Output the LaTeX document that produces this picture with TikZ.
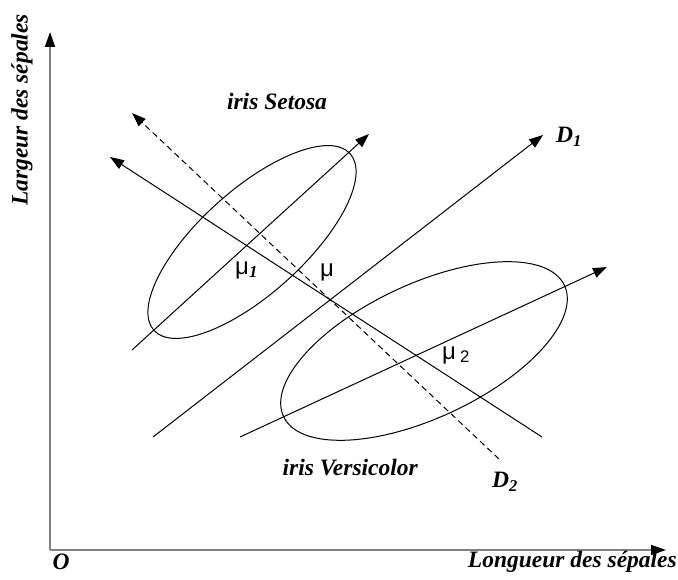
\documentclass[tikz,border=0pt]{standalone}
\usepackage{fontspec}
\setmainfont{Liberation Serif}
\newfontfamily\mufont{Liberation Sans}
\usetikzlibrary{arrows.meta}
\begin{document}
\begin{tikzpicture}[x=1pt,y=1pt,
  ln/.style={line width=1pt, draw=black},
  tipped/.style={ln, -{Triangle[length=14pt,width=10pt]}},
  axisln/.style={line width=1.6pt, draw=gray, -{Triangle[length=15pt,width=10pt,color=black]}},
  lab/.style={font=\fontsize{23.5}{26}\selectfont\bfseries\itshape, inner sep=0pt},
  mulab/.style={font=\fontsize{24}{26}\selectfont\mufont, inner sep=0pt}]
\useasboundingbox (0,0) rectangle (678,579);
% axes
\coordinate (O) at (50,29);
\coordinate (Ytip) at (50,547);
\coordinate (Xtip) at (666,29);
\draw[axisln] (O) -- (Ytip);
\draw[axisln] (O) -- (Xtip);
\node[lab, rotate=90] (ylab) at (22,469) {Largeur des sépales};
\node[lab, anchor=east] (xlab) at (677,17) {Longueur des sépales};
\node[lab] (olab) at (61,17) {O};
% ellipses
\draw[ln, rotate around={42:(252,337)}] (252,337) ellipse [x radius=132, y radius=52];
\draw[ln, rotate around={25:(424,228)}] (424,228) ellipse [x radius=155, y radius=67];
% lines
\coordinate (La) at (542,142); \coordinate (Lb) at (110,422);
\coordinate (Da) at (499,120); \coordinate (Db) at (132,466);
\coordinate (D1a) at (153,142); \coordinate (D1b) at (543,444);
\coordinate (A1a) at (132,229); \coordinate (A1b) at (369,445);
\coordinate (A2a) at (240,142); \coordinate (A2b) at (607,312);
\draw[tipped] (La) -- (Lb);
\draw[tipped, dash pattern=on 6pt off 4pt] (Da) -- (Db);
\draw[tipped] (D1a) -- (D1b);
\draw[tipped] (A1a) -- (A1b);
\draw[tipped] (A2a) -- (A2b);
% labels
\node[lab] (setosa) at (277,478) {iris Setosa};
\node[lab, anchor=east] (versi) at (418,111) {iris Versicolor};
\node[lab, anchor=west] (d1) at (556,442) {D\textsubscript{1}};
\node[lab, anchor=west] (d2) at (492,97) {D\textsubscript{2}};
\node[mulab] (mu) at (327,307) {μ};
\node[mulab, anchor=west] (mu1) at (235,309) {μ\textsubscript{\fontspec{Liberation Serif}\bfseries\itshape 1}};
\node[mulab, anchor=west] (mu2) at (442,224) {μ\,\textsubscript{2}};
\end{tikzpicture}
\end{document}
